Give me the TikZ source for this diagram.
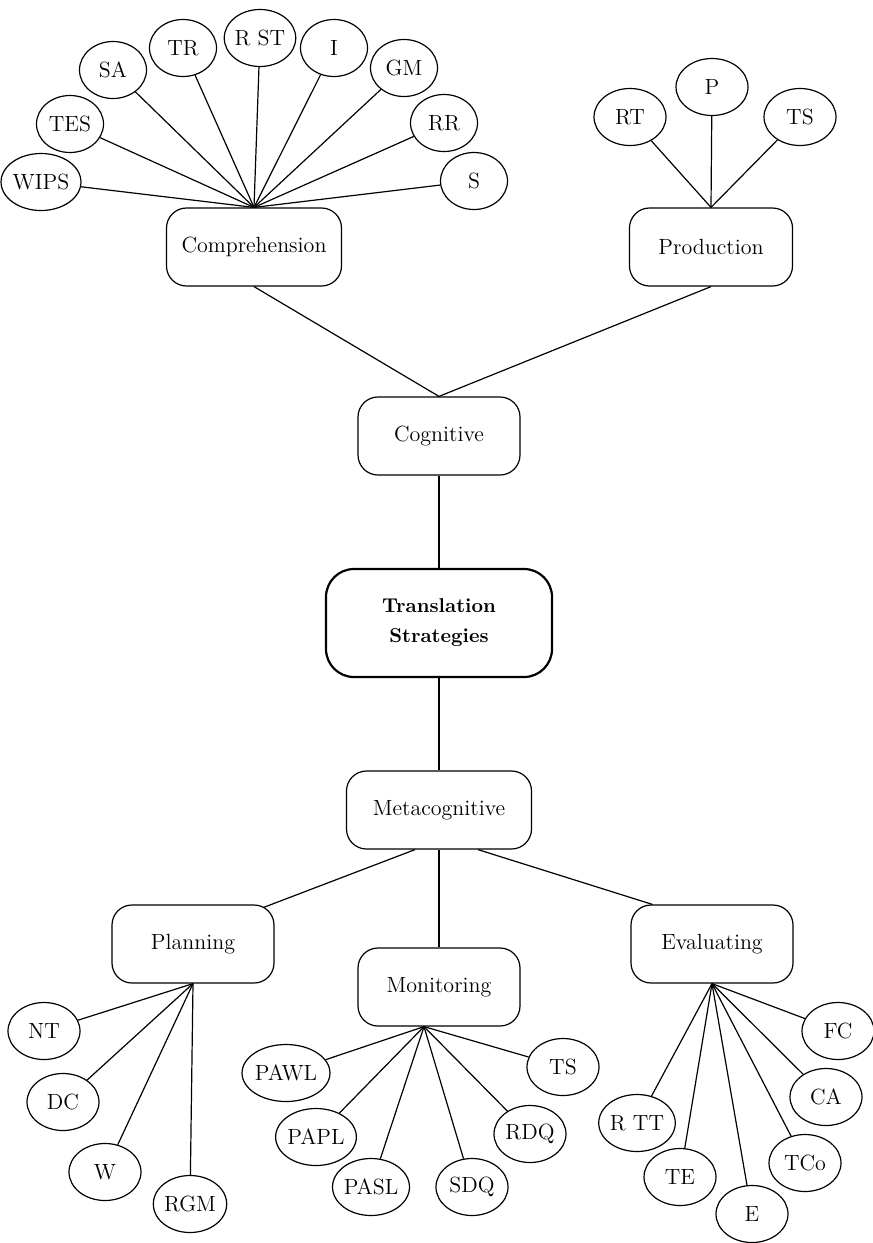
\documentclass[tikz,border=0pt]{standalone}
\usetikzlibrary{shapes.geometric}

\begin{document}
\begin{tikzpicture}[
    x=0.5pt, y=-0.5pt,
    font=\fontsize{11}{13}\selectfont,
    catbox/.style={draw, rounded corners=10pt, line width=0.6pt,
                   minimum width=#1, minimum height=39pt, align=center},
    catbox/.default=81pt,
    rootbox/.style={draw, rounded corners=14pt, line width=1.1pt,
                    minimum width=113pt, minimum height=54pt, align=center,
                    font=\fontsize{10}{15}\selectfont\bfseries},
    leaf/.style={draw, ellipse, line width=0.6pt, inner sep=0pt,
                 minimum width=#1, minimum height=28.5pt},
    leaf/.default=36pt,
    link/.style={line width=0.6pt},
]
    \useasboundingbox (0,0) rectangle (873,1243);

    % Main categories
    \node[rootbox] (trans) at (439,623) {Translation\\Strategies};
    \node[catbox] (cog) at (439,436) {Cognitive};
    \node[catbox=87.5pt] (comp) at (254,247) {Comprehension};
    \node[catbox=81.5pt] (prod) at (711,247) {Production};
    \node[catbox=92.5pt] (meta) at (439,810) {Metacognitive};
    \node[catbox] (plan) at (193,944) {Planning};
    \node[catbox] (mon) at (439,987) {Monitoring};
    \node[catbox] (eval) at (712,944) {Evaluating};

    % Comprehension strategies
    \node[leaf=33.5pt] (cwips) at (41,182) {WIPS};
    \node[leaf=33.5pt] (ctes) at (70,124) {TES};
    \node[leaf=33.5pt] (csa) at (113,70) {SA};
    \node[leaf=33.5pt] (ctr) at (183,48) {TR};
    \node[leaf=33.5pt] (crst) at (260,38) {R ST};
    \node[leaf=33.5pt] (ci) at (334,48) {I};
    \node[leaf=33.5pt] (cgm) at (404,68) {GM};
    \node[leaf=33.5pt] (crr) at (444,123) {RR};
    \node[leaf=33.5pt] (cs) at (474,181) {S};

    % Production strategies
    \node[leaf] (prt) at (630,117) {RT};
    \node[leaf] (pp) at (712,87) {P};
    \node[leaf] (pts) at (800,117) {TS};

    % Planning strategies
    \node[leaf] (pnt) at (44,1031) {NT};
    \node[leaf] (pdc) at (63,1102) {DC};
    \node[leaf] (pw) at (105,1172) {W};
    \node[leaf] (prgm) at (190,1204) {RGM};

    % Monitoring strategies
    \node[leaf] (mpawl) at (286,1073) {PAWL};
    \node[leaf] (mpapl) at (316,1137) {PAPL};
    \node[leaf] (mpasl) at (371,1187) {PASL};
    \node[leaf] (msdq) at (472,1187) {SDQ};
    \node[leaf] (mrdq) at (530,1134) {RDQ};
    \node[leaf] (mts) at (563,1067) {TS};

    % Evaluating strategies
    \node[leaf] (ertt) at (637,1123) {R TT};
    \node[leaf] (ete) at (680,1177) {TE};
    \node[leaf] (ee) at (752,1214) {E};
    \node[leaf] (etco) at (805,1163) {TCo};
    \node[leaf] (eca) at (826,1097) {CA};
    \node[leaf] (efc) at (838,1031) {FC};

    % Hubs
    \coordinate (monhub) at ([xshift=-7.5pt]mon.south);

    % Tree links
    \draw[link] (comp.south) -- (cog.north);
    \draw[link] (prod.south) -- (cog.north);
    \draw[link] (cog.south) -- (trans.north);
    \draw[link] (trans.south) -- (meta.north);
    \draw[link] ([xshift=-12pt]meta.south) -- ([xshift=-5.5pt,yshift=-1.5pt]plan.north east);
    \draw[link] (meta.south) -- (mon.north);
    \draw[link] ([xshift=19.5pt]meta.south) -- ([xshift=11pt]eval.north west);

    % Leaf links
    \draw[link] (comp.north) -- (cwips);
    \draw[link] (comp.north) -- (ctes);
    \draw[link] (comp.north) -- (csa);
    \draw[link] (comp.north) -- (ctr);
    \draw[link] (comp.north) -- (crst);
    \draw[link] (comp.north) -- (ci);
    \draw[link] (comp.north) -- (cgm);
    \draw[link] (comp.north) -- (crr);
    \draw[link] (comp.north) -- (cs);

    \draw[link] (prod.north) -- (prt);
    \draw[link] (prod.north) -- (pp);
    \draw[link] (prod.north) -- (pts);

    \draw[link] (plan.south) -- (pnt);
    \draw[link] (plan.south) -- (pdc);
    \draw[link] (plan.south) -- (pw);
    \draw[link] (plan.south) -- (prgm);

    \draw[link] (monhub) -- (mpawl);
    \draw[link] (monhub) -- (mpapl);
    \draw[link] (monhub) -- (mpasl);
    \draw[link] (monhub) -- (msdq);
    \draw[link] (monhub) -- (mrdq);
    \draw[link] (monhub) -- (mts);

    \draw[link] (eval.south) -- (ertt);
    \draw[link] (eval.south) -- (ete);
    \draw[link] (eval.south) -- (ee);
    \draw[link] (eval.south) -- (etco);
    \draw[link] (eval.south) -- (eca);
    \draw[link] (eval.south) -- (efc);
\end{tikzpicture}
\end{document}
